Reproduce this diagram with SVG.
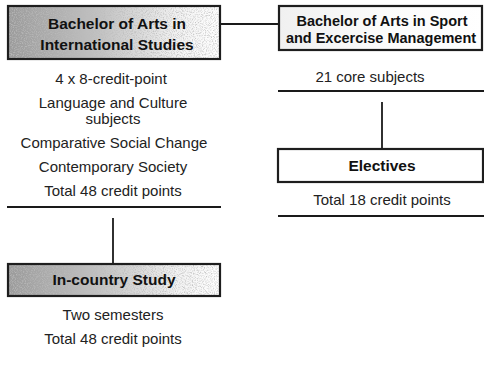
<svg xmlns="http://www.w3.org/2000/svg" width="484" height="369" viewBox="0 0 484 369">
  <style>
    .box { stroke: #1e1e1e; stroke-width: 2.2; fill: none; }
    .title { font-family: "Liberation Sans", Arial, sans-serif; font-weight: bold; font-size: 15.5px; fill: #111; text-anchor: middle; }
    .title.sm { font-size: 14.5px; }
    .body { font-family: "Liberation Sans", Arial, sans-serif; font-size: 15px; fill: #222; text-anchor: middle; }
    .conn { stroke: #1a1a1a; stroke-width: 1.8; fill: none; }
  </style>
  <defs>
    <linearGradient id="gL" x1="0" y1="0" x2="1" y2="0">
      <stop offset="0" stop-color="#9a9a9a"/>
      <stop offset="0.45" stop-color="#c4c4c4"/>
      <stop offset="0.8" stop-color="#f2f2f2"/>
      <stop offset="1" stop-color="#ffffff"/>
    </linearGradient>
    <linearGradient id="gR" x1="0" y1="0" x2="1" y2="0">
      <stop offset="0" stop-color="#f0f0f0"/>
      <stop offset="0.5" stop-color="#fbfbfb"/>
      <stop offset="1" stop-color="#ffffff"/>
    </linearGradient>
    <filter id="grain" x="0" y="0" width="1" height="1">
      <feTurbulence type="fractalNoise" baseFrequency="0.9" numOctaves="2" seed="3" result="n"/>
      <feColorMatrix in="n" type="matrix" values="0 0 0 0 0.5  0 0 0 0 0.5  0 0 0 0 0.5  0 0 0 -2.2 1.25" result="g"/>
      <feComposite in="g" in2="SourceGraphic" operator="in" result="gc"/>
      <feMerge><feMergeNode in="SourceGraphic"/><feMergeNode in="gc"/></feMerge>
    </filter>
  </defs>

  <g id="connectors">
    <line class="conn" x1="220" y1="24" x2="279" y2="24"/>
    <line class="conn" x1="7" y1="207" x2="221" y2="207"/>
    <line class="conn" x1="113" y1="218" x2="113" y2="263"/>
    <line class="conn" x1="278" y1="91" x2="484" y2="91"/>
    <line class="conn" x1="382" y1="102" x2="382" y2="148"/>
    <line class="conn" x1="278" y1="216" x2="484" y2="216"/>
  </g>

  <g id="ba-international">
    <rect x="8" y="6" width="212" height="53" fill="url(#gL)" filter="url(#grain)"/>
    <rect class="box" x="8" y="6" width="212" height="53"/>
    <text class="title" x="117" y="29">Bachelor of Arts in</text>
    <text class="title" x="117" y="50">International Studies</text>
    <text class="body" x="111" y="84">4 x 8-credit-point</text>
    <text class="body" x="113" y="108">Language and Culture</text>
    <text class="body" x="113" y="124">subjects</text>
    <text class="body" x="114" y="148">Comparative Social Change</text>
    <text class="body" x="113" y="172">Contemporary Society</text>
    <text class="body" x="113" y="196">Total 48 credit points</text>
  </g>

  <g id="ba-sport">
    <rect x="279" y="6" width="203" height="44" fill="url(#gR)"/>
    <rect class="box" x="279" y="6" width="203" height="44"/>
    <text class="title sm" x="382" y="26">Bachelor of Arts in Sport</text>
    <text class="title sm" x="381" y="43">and Excercise Management</text>
    <text class="body" x="370" y="82">21 core subjects</text>
  </g>

  <g id="electives">
    <rect x="278" y="149" width="205" height="33" fill="#ffffff"/>
    <rect class="box" x="278" y="149" width="205" height="33"/>
    <text class="title" x="382" y="171">Electives</text>
    <text class="body" x="382" y="205">Total 18 credit points</text>
  </g>

  <g id="in-country">
    <rect x="8" y="264" width="212" height="32" fill="url(#gL)" filter="url(#grain)"/>
    <rect class="box" x="8" y="264" width="212" height="32"/>
    <text class="title" x="114" y="285">In-country Study</text>
    <text class="body" x="113" y="320">Two semesters</text>
    <text class="body" x="113" y="344">Total 48 credit points</text>
  </g>
</svg>
